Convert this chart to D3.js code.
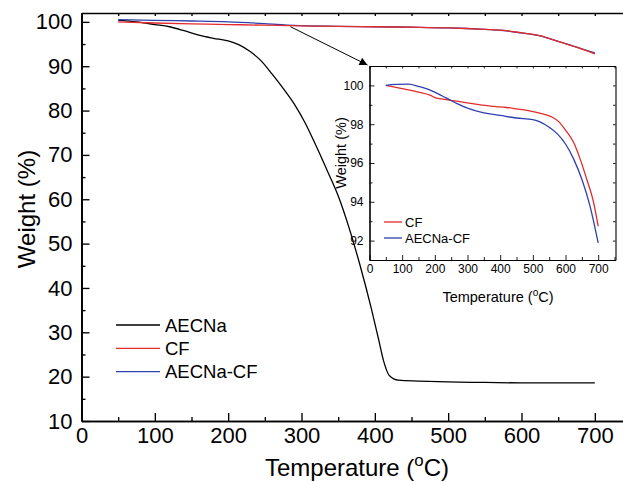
<!DOCTYPE html>
<html>
<head>
<meta charset="utf-8">
<script src="https://cdn.jsdelivr.net/npm/d3@7"></script>
<style>
  html, body { margin: 0; padding: 0; background: #fff; overflow: hidden; }
  svg { display: block; }
</style>
</head>
<body>
<div id="chart"></div>
<script>
// main TGA curves (temperature in C, weight in %)
const aecnaT = [50, 75, 100, 120, 140, 160, 180, 200, 215, 230, 245, 260, 275, 290, 305, 320, 335, 350, 365, 380, 395, 405, 412, 420, 432, 460, 500, 550, 600, 650, 700];
const aecnaW = [100.4, 100.0, 99.4, 98.9, 98.0, 97.0, 96.3, 95.7, 94.8, 93.3, 91.2, 88.2, 85.0, 81.5, 77.2, 72.0, 66.5, 60.8, 53.5, 45.0, 35.5, 28.5, 23.5, 20.2, 19.2, 19.0, 18.8, 18.7, 18.6, 18.6, 18.6];

const cfT = [50, 100, 150, 200, 250, 300, 350, 400, 450, 500, 525, 550, 575, 600, 625, 650, 675, 700];
const cfW = [100.0, 99.75, 99.55, 99.4, 99.25, 99.1, 99.0, 98.9, 98.8, 98.65, 98.5, 98.3, 98.1, 97.5, 96.9, 95.6, 94.3, 92.8];

const mixT = [50, 100, 150, 200, 250, 290, 350, 400, 450, 500, 525, 550, 575, 600, 625, 650, 675, 700];
const mixW = [100.5, 100.35, 100.2, 100.0, 99.6, 99.2, 99.0, 98.9, 98.8, 98.65, 98.5, 98.3, 98.05, 97.5, 96.85, 95.6, 94.3, 93.0];

// inset (zoomed) curves
const insetCfT = [50, 100, 150, 185, 205, 235, 285, 340, 370, 420, 450, 490, 530, 560, 580, 600, 625, 645, 665, 685, 700];
const insetCfW = [100, 99.83, 99.65, 99.5, 99.34, 99.27, 99.14, 99.0, 98.93, 98.86, 98.79, 98.69, 98.53, 98.36, 98.12, 97.7, 97.06, 96.2, 95.16, 94.04, 92.75];

const insetMixT = [50, 80, 120, 150, 180, 220, 250, 270, 300, 350, 400, 450, 500, 520, 550, 575, 600, 625, 650, 675, 700];
const insetMixW = [100, 100.05, 100.07, 99.95, 99.8, 99.48, 99.22, 99.05, 98.83, 98.58, 98.45, 98.32, 98.24, 98.13, 97.84, 97.5, 96.98, 96.2, 95.16, 93.78, 91.88];

const xTicks = [0, 100, 200, 300, 400, 500, 600, 700];
const xMinor = [50, 150, 250, 350, 450, 550, 650, 750];
const yTicks = [10, 20, 30, 40, 50, 60, 70, 80, 90, 100];
const yMinor = [15, 25, 35, 45, 55, 65, 75, 85, 95];
const insetYTicks = [92, 94, 96, 98, 100];
const insetYMinor = [91, 93, 95, 97, 99, 101];

const seriesNames = ["AECNa", "CF", "AECNa-CF"];
const seriesColors = ["#000000", "#e42a2a", "#2e3fae"];

const width = 623;
const height = 482;
const font = "'Liberation Sans', Arial, sans-serif";

const svg = d3
  .select("#chart")
  .append("svg")
  .attr("width", width)
  .attr("height", height)
  .style("font-family", font);

// main scales
const x = d3.scaleLinear().domain([0, 750]).range([81.5, 631.5]);
const y = d3.scaleLinear().domain([10, 102]).range([421, 13]);

// inset scales
const ix = d3.scaleLinear().domain([0, 753]).range([369.5, 615.5]);
const iy = d3.scaleLinear().domain([91, 101]).range([260, 66]);

function styleAxis(g, size, width) {
  g.attr("font-family", font).attr("font-size", size);
  g.selectAll("path.domain").attr("stroke", "#000").attr("stroke-width", width);
  g.selectAll(".tick line").attr("stroke", "#000").attr("stroke-width", width * 0.8);
  g.selectAll(".tick text").attr("fill", "#000");
}

function drawAxes(parent, sx, sy, opt) {
  const [x0, x1] = sx.range();
  const [y0, y1] = sy.range();

  // minor ticks first, no labels
  parent.append("g")
    .attr("transform", `translate(0,${y0})`)
    .call(d3.axisBottom(sx).tickValues(opt.xMinor).tickSize(-opt.minor).tickSizeOuter(0).tickFormat(""))
    .call(styleAxis, opt.font, opt.lw);
  parent.append("g")
    .attr("transform", `translate(${x0},0)`)
    .call(d3.axisLeft(sy).tickValues(opt.yMinor).tickSize(-opt.minor).tickSizeOuter(0).tickFormat(""))
    .call(styleAxis, opt.font, opt.lw);

  parent.append("g")
    .attr("transform", `translate(0,${y0})`)
    .call(d3.axisBottom(sx).tickValues(opt.xTicks).tickSize(-opt.major).tickSizeOuter(0).tickPadding(opt.xPad))
    .call(styleAxis, opt.font, opt.lw);
  parent.append("g")
    .attr("transform", `translate(${x0},0)`)
    .call(d3.axisLeft(sy).tickValues(opt.yTicks).tickSize(-opt.major).tickSizeOuter(0).tickPadding(opt.yPad))
    .call(styleAxis, opt.font, opt.lw);

  // mirrored top / right axes
  parent.append("g")
    .attr("transform", `translate(0,${y1})`)
    .call(d3.axisTop(sx).tickValues(opt.xTicks.concat(opt.xMinor)).tickSize(-opt.top).tickSizeOuter(0).tickFormat(""))
    .call(styleAxis, opt.font, opt.lw);
  parent.append("g")
    .attr("transform", `translate(${x1},0)`)
    .call(d3.axisRight(sy).tickValues(opt.yTicks.concat(opt.yMinor)).tickSize(-opt.top).tickSizeOuter(0).tickFormat(""))
    .call(styleAxis, opt.font, opt.lw);
}

function addTitle(parent, tx, ty, size, rotate, main) {
  const t = parent.append("text")
    .attr("font-size", size)
    .attr("text-anchor", "middle")
    .attr("fill", "#000")
    .attr("transform", `translate(${tx},${ty})${rotate ? " rotate(-90)" : ""}`);
  t.append("tspan").text(main);
  return t;
}

function addTempTitle(parent, tx, ty, size) {
  const t = addTitle(parent, tx, ty, size, false, "Temperature (");
  t.append("tspan").attr("font-size", size * 0.7).attr("dy", -size * 0.4).text("o");
  t.append("tspan").attr("dy", size * 0.4).text("C)");
}

// main axes
drawAxes(svg, x, y, {
  xTicks: xTicks, xMinor: xMinor, yTicks: yTicks, yMinor: yMinor,
  major: 8, minor: 4, top: 3, font: 22, lw: 1.7, xPad: 6, yPad: 9
});

addTempTitle(svg, 357, 476, 24);
addTitle(svg, 35, 209, 24, true, "Weight (%)");

const line = (sx, sy) => d3.line()
  .x((d) => sx(d[0]))
  .y((d) => sy(d[1]))
  .curve(d3.curveMonotoneX);

const mainSeries = [
  d3.zip(aecnaT, aecnaW),
  d3.zip(cfT, cfW),
  d3.zip(mixT, mixW)
];

// blue under red so the overlap looks like the original
[0, 2, 1].forEach((i) => {
  svg.append("path")
    .datum(mainSeries[i])
    .attr("fill", "none")
    .attr("stroke", seriesColors[i])
    .attr("stroke-width", 1.3)
    .attr("d", line(x, y));
});

// main legend
const legend = svg.append("g");
seriesNames.forEach((name, i) => {
  const ly = 325 + i * 23.3;
  legend.append("line")
    .attr("x1", 116).attr("x2", 160)
    .attr("y1", ly).attr("y2", ly)
    .attr("stroke", seriesColors[i])
    .attr("stroke-width", 1.3);
  legend.append("text")
    .attr("x", 165).attr("y", ly)
    .attr("dy", "0.36em")
    .attr("font-size", 18.5)
    .text(name);
});

// inset
const inset = svg.append("g");
inset.append("rect")
  .attr("x", ix.range()[0]).attr("y", iy.range()[1])
  .attr("width", ix.range()[1] - ix.range()[0])
  .attr("height", iy.range()[0] - iy.range()[1])
  .attr("fill", "#fff");

drawAxes(inset, ix, iy, {
  xTicks: xTicks, xMinor: xMinor, yTicks: insetYTicks, yMinor: insetYMinor,
  major: 5, minor: 3, top: 2.5, font: 12, lw: 1.1, xPad: 4, yPad: 6
});

addTempTitle(inset, 498, 302, 14.5);
addTitle(inset, 345.5, 153, 14.5, true, "Weight (%)");

const insetSeries = [
  [d3.zip(insetCfT, insetCfW), seriesColors[1]],
  [d3.zip(insetMixT, insetMixW), seriesColors[2]]
];
insetSeries.forEach(([data, color]) => {
  inset.append("path")
    .datum(data)
    .attr("fill", "none")
    .attr("stroke", color)
    .attr("stroke-width", 1.3)
    .attr("d", line(ix, iy));
});

// inset legend
seriesNames.slice(1).forEach((name, i) => {
  const ly = 222 + i * 16;
  inset.append("line")
    .attr("x1", 384).attr("x2", 402)
    .attr("y1", ly).attr("y2", ly)
    .attr("stroke", seriesColors[i + 1])
    .attr("stroke-width", 1.3);
  inset.append("text")
    .attr("x", 405).attr("y", ly)
    .attr("dy", "0.36em")
    .attr("font-size", 13)
    .text(name);
});

// arrow from the main curves to the inset corner
svg.append("defs").append("marker")
  .attr("id", "head")
  .attr("viewBox", "0 0 10 10")
  .attr("refX", 10).attr("refY", 5)
  .attr("markerWidth", 11).attr("markerHeight", 8)
  .attr("markerUnits", "userSpaceOnUse")
  .attr("orient", "auto")
  .append("path")
  .attr("d", "M0,0 L10,5 L0,10 Z")
  .attr("fill", "#000");

svg.append("line")
  .attr("x1", x(285)).attr("y1", y(98.9))
  .attr("x2", ix(0) - 2).attr("y2", iy(101) - 1)
  .attr("stroke", "#000")
  .attr("stroke-width", 1)
  .attr("marker-end", "url(#head)");
</script>
</body>
</html>
